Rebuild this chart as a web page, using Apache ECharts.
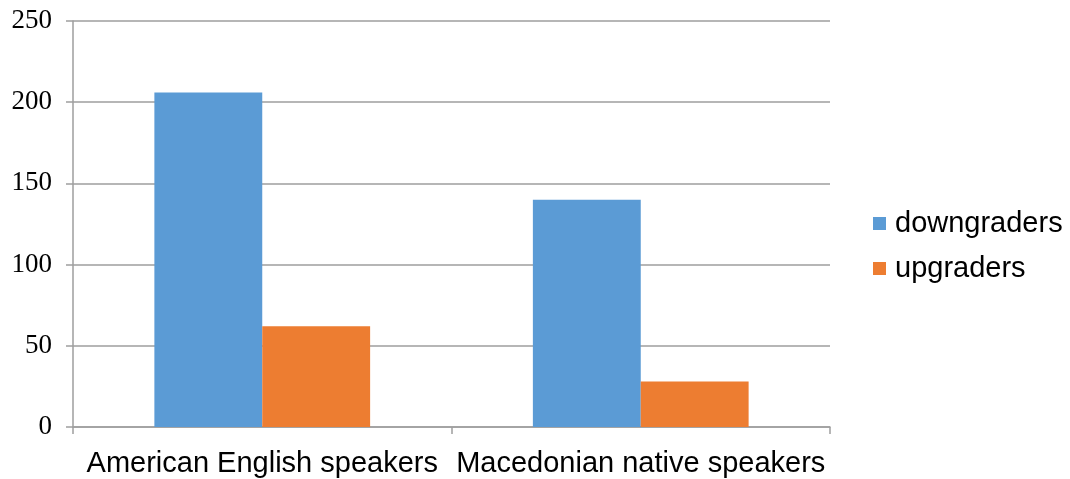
<!DOCTYPE html>
<html>
<head>
<meta charset="utf-8">
<script src="https://cdn.jsdelivr.net/npm/echarts@6/dist/echarts.min.js"></script>
<style>
html,body{margin:0;padding:0;background:#fff;}
#chart{width:1070px;height:479px;}
</style>
</head>
<body>
<div id="chart"></div>
<script>
const categories = ['American English speakers', 'Macedonian native speakers'];
const seriesNames = ['downgraders', 'upgraders'];
const downgraders = [206, 140];
const upgraders = [62, 28];
const yTicks = [0, 50, 100, 150, 200, 250];

const chart = echarts.init(document.getElementById('chart'));
const gray = '#9e9e9e';
chart.setOption({
  animation: false,
  backgroundColor: '#ffffff',
  grid: { left: 73, right: 240, top: 21, bottom: 52, containLabel: false },
  legend: {
    orient: 'vertical',
    left: 868,
    top: 204,
    itemWidth: 13,
    itemHeight: 13,
    itemGap: 16,
    icon: 'rect',
    data: seriesNames,
    textStyle: { fontFamily: 'Liberation Sans', fontSize: 29, color: '#000', padding: [0, 0, 0, 4] }
  },
  xAxis: {
    type: 'category',
    data: categories,
    axisLine: { lineStyle: { color: gray, width: 1.5 } },
    axisTick: { show: true, length: 7, lineStyle: { color: gray, width: 1.5 } },
    axisLabel: { fontFamily: 'Liberation Sans', fontSize: 29, color: '#000', margin: 22, interval: 0 },
    splitLine: { show: false }
  },
  yAxis: {
    type: 'value',
    min: yTicks[0],
    max: yTicks[yTicks.length - 1],
    interval: 50,
    axisLine: { show: true, lineStyle: { color: gray, width: 1.5 } },
    axisTick: { show: true, length: 7, lineStyle: { color: gray, width: 1.5 } },
    axisLabel: { fontFamily: 'Liberation Serif', fontSize: 27, color: '#000', margin: 21 },
    splitLine: { show: true, lineStyle: { color: gray, width: 1.5 } }
  },
  series: [
    { name: seriesNames[0], type: 'bar', data: downgraders, barGap: '0%', barCategoryGap: '43%', itemStyle: { color: '#5B9BD5' } },
    { name: seriesNames[1], type: 'bar', data: upgraders, barGap: '0%', barCategoryGap: '43%', itemStyle: { color: '#ED7D31' } }
  ]
});
</script>
</body>
</html>
